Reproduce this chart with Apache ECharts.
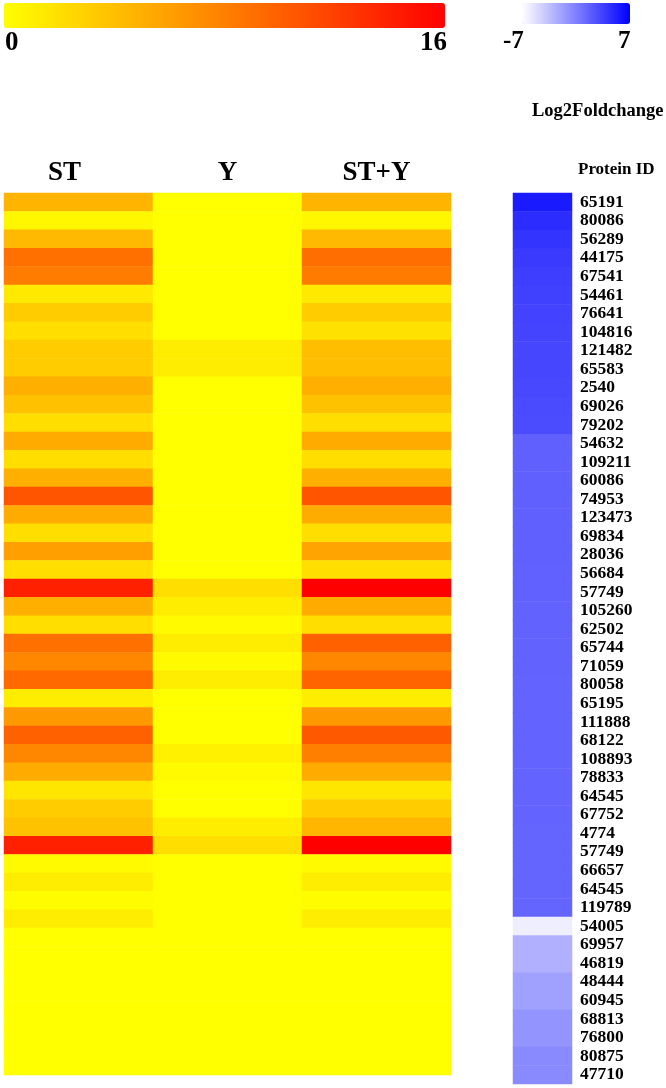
<!DOCTYPE html>
<html>
<head>
<meta charset="utf-8">
<script src="https://cdn.jsdelivr.net/npm/echarts@6/dist/echarts.min.js"></script>
<style>
html,body{margin:0;padding:0;background:#fff;}
#main{width:666px;height:1088px;}
</style>
</head>
<body>
<div id="main"></div>
<script>
const conditions = ['ST', 'Y', 'ST+Y'];
const proteinIds = ['65191','80086','56289','44175','67541','54461','76641','104816','121482','65583',
  '2540','69026','79202','54632','109211','60086','74953','123473','69834','28036',
  '56684','57749','105260','62502','65744','71059','80058','65195','111888','68122',
  '108893','78833','64545','67752','4774','57749','66657','64545','119789','54005',
  '69957','46819','48444','60945','68813','76800','80875','47710'];
const stValues = [4.7,0.5,4.4,9.0,8.2,1.4,3.2,2.1,3.2,3.2,
  5.0,3.9,2.1,5.3,2.1,5.0,10.7,5.3,2.1,6.0,
  2.1,14.0,5.0,2.1,9.0,7.5,9.4,1.1,6.4,10.0,
  7.5,5.3,1.6,3.2,3.8,14.0,0.3,1.1,0.2,1.1,
  0,0,0,0,0,0,0,0];
const yValues = [0,0,0,0,0,0,0,0,1.1,1.1,
  0,0,0,0,0,0,0,0,0,0,
  0,2.1,1.1,0.3,1.1,0.3,1.1,0,0,0,
  0.9,0.3,0,0,1.1,2.1,0,0,0,0,
  0,0,0,0,0,0,0,0];
const styValues = [4.7,0.5,4.3,9.1,8.3,1.4,3.2,1.9,4.0,4.0,
  5.0,3.8,2.1,5.3,2.1,5.0,10.7,5.2,2.1,5.7,
  2.1,16.0,5.3,2.1,10.0,7.5,9.7,1.1,6.4,10.4,
  8.0,5.3,1.6,3.2,4.6,16.0,0.3,1.1,0.2,1.1,
  0,0,0,0,0,0,0,0];
const log2fc = [5.57,4.58,4.15,3.82,3.6,3.49,3.38,3.27,3.16,3.16,
  3.05,2.94,2.83,1.75,1.75,1.75,1.75,1.75,1.75,1.72,
  1.68,1.66,1.64,1.62,1.6,1.6,1.58,1.58,1.56,1.56,
  1.55,1.55,1.54,1.54,1.53,1.53,1.52,1.52,1.51,-6.07,
  -2.66,-2.66,-1.78,-1.78,-1.12,-1.12,-0.57,-0.57];
const expressionRange = [0, 16];
const foldRange = [-7, 7];

const serif = 'Liberation Serif, Times New Roman, serif';

const heatData = [];
[stValues, yValues, styValues].forEach((arr, ci) => {
  arr.forEach((v, ri) => heatData.push([ci, ri, v]));
});
const fcData = log2fc.map((v, ri) => [0, ri, v]);
const rowIdx = proteinIds.map((_, i) => String(i));

const chart = echarts.init(document.getElementById('main'), null, {renderer: 'canvas'});
chart.setOption({
  animation: false,
  backgroundColor: '#ffffff',
  grid: [
    {left: 4, top: 193, width: 447, height: 882},
    {left: 513, top: 193, width: 59, height: 891}
  ],
  xAxis: [
    {
      type: 'category', gridIndex: 0, data: conditions, position: 'top',
      axisLine: {show: false}, axisTick: {show: false}, splitLine: {show: false},
      axisLabel: {
        margin: 6, color: '#000', fontFamily: serif, fontWeight: 'bold', fontSize: 27,
        formatter: v => v === 'ST' ? '{s|ST}' : '{n|' + v + '}',
        rich: {
          s: {padding: [0, 28, 0, 0], color: '#000', fontFamily: serif, fontWeight: 'bold', fontSize: 27},
          n: {color: '#000', fontFamily: serif, fontWeight: 'bold', fontSize: 27}
        }
      }
    },
    {
      type: 'category', gridIndex: 1, data: ['Log2Foldchange'], show: false
    }
  ],
  yAxis: [
    {type: 'category', gridIndex: 0, data: rowIdx, inverse: true, show: false},
    {
      type: 'category', gridIndex: 1, data: proteinIds, inverse: true, position: 'right',
      axisLine: {show: false}, axisTick: {show: false}, splitLine: {show: false},
      axisLabel: {interval: 0, margin: 8, color: '#000', fontFamily: serif, fontWeight: 'bold', fontSize: 17.5}
    }
  ],
  visualMap: [
    {
      type: 'continuous', seriesIndex: 0, min: expressionRange[0], max: expressionRange[1],
      orient: 'horizontal', left: 4, top: 3, itemWidth: 25, itemHeight: 441,
      padding: 0, calculable: false, hoverLink: false, text: null, showLabel: false,
      inRange: {color: ['#FFFF00', '#FF0000']}
    },
    {
      type: 'continuous', seriesIndex: 1, min: foldRange[0], max: foldRange[1],
      orient: 'horizontal', left: 522, top: 3, itemWidth: 21, itemHeight: 108,
      padding: 0, calculable: false, hoverLink: false, text: null, showLabel: false,
      inRange: {color: ['#FFFFFF', '#0000FF']}
    }
  ],
  graphic: [
    {type: 'text', left: 5, top: 30, style: {text: String(expressionRange[0]), font: 'bold 27px ' + serif, fill: '#000'}},
    {type: 'text', right: 219, top: 30, style: {text: String(expressionRange[1]), font: 'bold 27px ' + serif, fill: '#000'}},
    {type: 'text', left: 503, top: 29, style: {text: String(foldRange[0]), font: 'bold 25px ' + serif, fill: '#000'}},
    {type: 'text', left: 618, top: 29, style: {text: String(foldRange[1]), font: 'bold 25px ' + serif, fill: '#000'}},
    {type: 'text', left: 532, top: 102, style: {text: 'Log2Foldchange', font: 'bold 18.5px ' + serif, fill: '#000'}},
    {type: 'text', left: 578, top: 161, style: {text: 'Protein ID', font: 'bold 17px ' + serif, fill: '#000'}}
  ],
  series: [
    {type: 'heatmap', xAxisIndex: 0, yAxisIndex: 0, data: heatData, itemStyle: {borderWidth: 0}},
    {type: 'heatmap', xAxisIndex: 1, yAxisIndex: 1, data: fcData, itemStyle: {borderWidth: 0}}
  ]
});
</script>
</body>
</html>
